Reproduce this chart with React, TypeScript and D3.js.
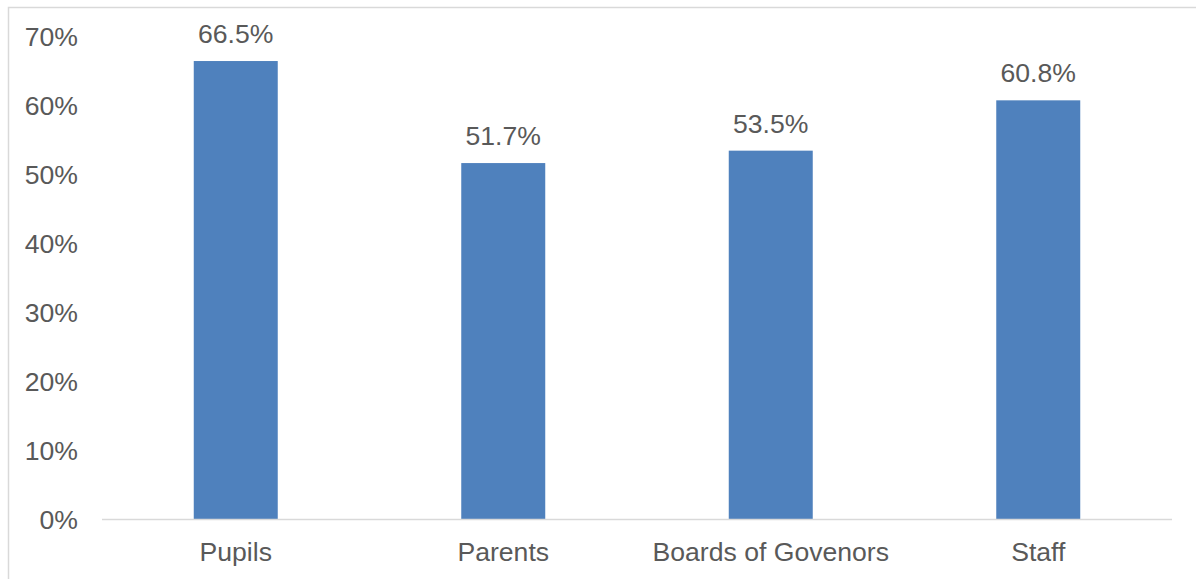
import React from "react";
import * as d3 from "d3";

const categories = ["Pupils", "Parents", "Boards of Govenors", "Staff"];
const values = [66.5, 51.7, 53.5, 60.8];
const yTicks = [0, 10, 20, 30, 40, 50, 60, 70];

export default function App() {
  const W = 1196, H = 579;
  const x0 = 102, x1 = 1172, yBase = 519.5, yTop = 36.9;
  const x = d3.scaleBand<string>().domain(categories).range([x0, x1]).paddingInner(0.686).paddingOuter(0.343);
  const y = d3.scaleLinear().domain([0, 70]).range([yBase, yTop]);
  const font = "Arial, 'Liberation Sans', sans-serif";
  const txt = "#595959";
  const fs = 26.6;
  return (
    <svg width={W} height={H} style={{ position: "absolute", left: 0, top: 0, background: "#fff" }}>
      <rect x={8.5} y={7.5} width={W + 10} height={H + 10} fill="#fff" stroke="#D9D9D9" strokeWidth={1.5} />
      {yTicks.map((t) => (
        <text key={t} x={78} y={y(t)} dy="0.35em" textAnchor="end" fontFamily={font} fontSize={fs} fill={txt}>
          {t}%
        </text>
      ))}
      {categories.map((c, i) => (
        <g key={c}>
          <rect x={x(c)} y={y(values[i])} width={x.bandwidth()} height={yBase - y(values[i])} fill="#4F81BD" />
          <text x={(x(c) as number) + x.bandwidth() / 2} y={y(values[i]) - 18} textAnchor="middle" fontFamily={font} fontSize={fs} fill={txt}>
            {values[i].toFixed(1)}%
          </text>
          <text x={(x(c) as number) + x.bandwidth() / 2} y={561} textAnchor="middle" fontFamily={font} fontSize={fs} fill={txt}>
            {c}
          </text>
        </g>
      ))}
      <line x1={x0} x2={x1} y1={yBase} y2={yBase} stroke="#D9D9D9" strokeWidth={1.5} />
    </svg>
  );
}
